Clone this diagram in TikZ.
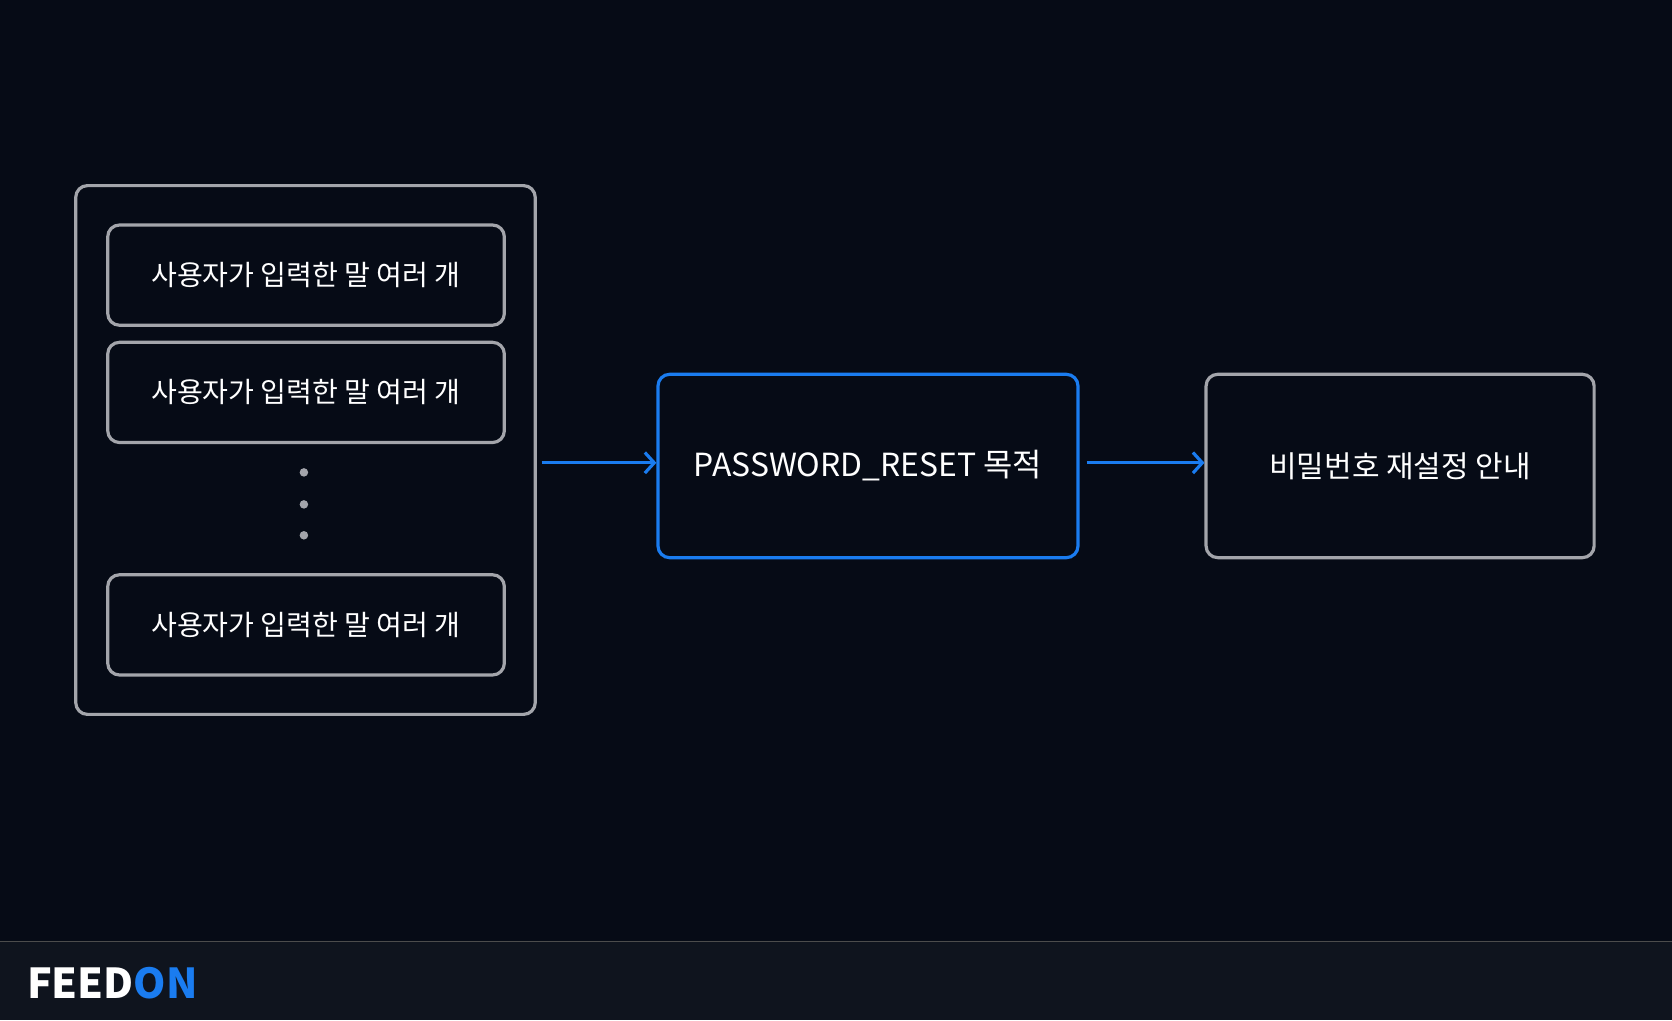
\documentclass[tikz,border=0pt]{standalone}
\usepackage{fontspec}
\setmainfont{Noto Sans CJK KR}
\usetikzlibrary{arrows.meta}
\definecolor{bg}{HTML}{060B16}
\definecolor{foot}{HTML}{0F141E}
\definecolor{gr}{HTML}{A3A5AB}
\definecolor{bl}{HTML}{1A7CF0}
\begin{document}
\begin{tikzpicture}[x=0.02cm,y=-0.02cm,
  box/.style={draw=gr,line width=1.7pt,rounded corners=0.22cm,text=white,font=\fontsize{15}{18}\selectfont},
  arr/.style={draw=bl,line width=1.7pt,-{Straight Barb[length=5pt,width=11pt]}}]
\fill[bg] (0,0) rectangle (1568,957);
\useasboundingbox (0,0) rectangle (1568,957);
\fill[foot] (0,883) rectangle (1568,957);
\draw[gray!60!black,line width=0.6pt] (0,883) -- (1568,883);
\node[box,minimum width=8.62cm,minimum height=9.92cm] (outer) at (286.5,422) {};
\node[box,minimum width=7.44cm,minimum height=1.88cm] (b1) at (287,258) {사용자가 입력한 말 여러 개};
\node[box,minimum width=7.44cm,minimum height=1.88cm] (b2) at (287,368) {사용자가 입력한 말 여러 개};
\node[box,minimum width=7.44cm,minimum height=1.88cm] (b3) at (287,586) {사용자가 입력한 말 여러 개};
\foreach \y/\n in {443/d1,473/d2,502/d3} \fill[gr] (285,\y) circle (4) coordinate (\n);
\node[box,draw=bl,minimum width=7.88cm,minimum height=3.44cm,font=\fontsize{17}{20}\selectfont] (p) at (814,437) {PASSWORD\_RESET 목적};
\node[box,minimum width=7.28cm,minimum height=3.44cm,font=\fontsize{16}{19}\selectfont] (r) at (1313,437) {비밀번호 재설정 안내};
\coordinate (a0) at (508,434);
\draw[arr] (a0) -- (p.west |- a0);
\coordinate (a1) at (1019,434);
\draw[arr] (a1) -- (r.west |- a1);
\node[anchor=west,font=\fontsize{22}{24}\selectfont\bfseries,inner sep=0] (logo) at (25,922) {\textcolor{white}{FEED}\textcolor{bl}{ON}};
\end{tikzpicture}
\end{document}
